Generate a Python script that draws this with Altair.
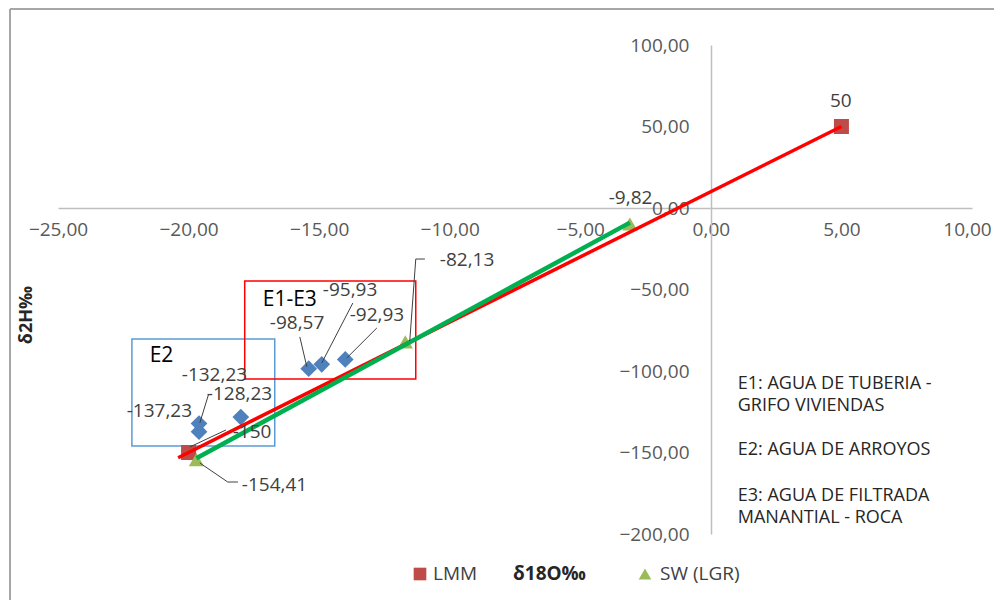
import altair as alt
import pandas as pd

# ---------------- data ----------------
x_ticks = [-25, -20, -15, -10, -5, 0, 5, 10]
y_ticks = [-200, -150, -100, -50, 0, 50, 100]

# LMM (local meteoric line points)
lmm_x = [-20.0, 5.0]
lmm_y = [-150.0, 50.0]

# delta 18O samples (E1, E2, E3)
d18o_x = [-19.6, -19.6, -18.0, -15.4, -14.9, -14.0]
d18o_y = [-132.23, -137.23, -128.23, -98.57, -95.93, -92.93]

# SW (LGR)
sw_x = [-19.7, -11.7, -3.1]
sw_y = [-154.41, -82.13, -9.82]

# data-label anchor positions (data units)
lmm_lab_x = [-18.31, 4.56]
lmm_lab_y = [-137.4, 65.6]
d18o_lab_x = [-20.26, -22.37, -19.30, -16.89, -14.86, -13.83]
d18o_lab_y = [-102.5, -124.5, -114.0, -70.6, -50.3, -65.6]
sw_lab_x = [-17.96, -10.38, -3.91]
sw_lab_y = [-169.9, -31.9, 6.1]

# leader lines (data units)
lead_x1 = [-19.57, -15.47, -14.90, -13.94, -11.53, -11.30, -19.57, -18.50, -19.95]
lead_y1 = [-131.9, -97.5, -95.1, -92.0, -81.6, -31.3, -156.4, -168.1, -146.6]
lead_x2 = [-19.23, -15.74, -13.71, -12.79, -11.30, -10.95, -18.50, -18.11, -18.57]
lead_y2 = [-114.1, -79.1, -58.3, -73.6, -31.3, -31.3, -168.1, -168.1, -136.2]

# group boxes
box_x1 = [-22.17, -17.85]
box_x2 = [-16.70, -11.30]
box_y1 = [-80.4, -44.8]
box_y2 = [-146.0, -104.9]
box_col = ["#5b9bd5", "#ff0000"]

group_txt = ["E2", "E1-E3"]
group_x = [-21.49, -17.16]
group_y = [-90.8, -56.4]

note_txt = ["E1:  AGUA DE TUBERIA -", "GRIFO VIVIENDAS", "E2: AGUA DE ARROYOS",
            "E3: AGUA DE FILTRADA", "MANANTIAL - ROCA"]
note_x = [1.03] * 5
note_y = [-108.0, -121.5, -148.5, -176.7, -190.2]

FONT = "Open Sans"
LBL = "#404040"

# ---------------- scales / axes ----------------
xs = alt.Scale(domain=[-25, 10], nice=False, zero=False)
ys = alt.Scale(domain=[-200, 100], nice=False, zero=False)
lblexpr = "replace(format(datum.value, '.2f'), '.', ',')"
xax = alt.Axis(values=x_ticks, labelExpr=lblexpr, orient="bottom", offset=-326,
               ticks=False, grid=False, domainColor="#bfbfbf", domainWidth=1.5,
               labelPadding=12, labelFlush=False, labelOverlap=False,
               labelOffset={"condition": {"test": "datum.value == 10", "value": -5}, "value": 0},
               labelFontSize=19, labelFont=FONT, labelColor="#595959", title="")
yax = alt.Axis(values=y_ticks, labelExpr=lblexpr, orient="left", offset=-653,
               ticks=False, grid=False, domainColor="#bfbfbf", domainWidth=1.5,
               labelPadding=22, labelFlush=False, labelOverlap=False,
               labelFontSize=19, labelFont=FONT, labelColor="#595959", title="")


def X(f):
    return alt.X(f, type="quantitative", scale=xs, axis=xax)


def Y(f):
    return alt.Y(f, type="quantitative", scale=ys, axis=yax)


one = pd.DataFrame({"a": [0]})
lmm_df = pd.DataFrame({"x": lmm_x, "y": lmm_y})
d18o_df = pd.DataFrame({"x": d18o_x, "y": d18o_y})
sw_df = pd.DataFrame({"x": sw_x, "y": sw_y})
lab_df = pd.DataFrame({"lx": d18o_lab_x + lmm_lab_x + sw_lab_x,
                       "ly": d18o_lab_y + lmm_lab_y + sw_lab_y,
                       "v": d18o_y + lmm_y + sw_y})
lead_df = pd.DataFrame({"x1": lead_x1, "y1": lead_y1, "x2": lead_x2, "y2": lead_y2})
box_df = pd.DataFrame({"x1": box_x1, "x2": box_x2, "y1": box_y1, "y2": box_y2, "c": box_col})
grp_df = pd.DataFrame({"x": group_x, "y": group_y, "t": group_txt})
note_df = pd.DataFrame({"x": note_x, "y": note_y, "t": note_txt})

# frame
frame_l = alt.Chart(one).mark_rule(color="#a6a6a6", strokeWidth=2).encode(
    x=alt.value(-48), y=alt.value(-36), y2=alt.value(570))
frame_t = alt.Chart(one).mark_rule(color="#a6a6a6", strokeWidth=2).encode(
    x=alt.value(-48), x2=alt.value(960), y=alt.value(-36))

boxes = alt.Chart(box_df).mark_rect(fillOpacity=0, strokeWidth=1.5).encode(
    x=X("x1"), x2="x2", y=Y("y1"), y2="y2", stroke=alt.Stroke("c:N", scale=None))

diam = alt.Chart(d18o_df).mark_point(shape="diamond", filled=True, size=280,
                                     color="#4f81bd", opacity=1).encode(x=X("x"), y=Y("y"))
sq = alt.Chart(lmm_df).mark_point(shape="square", filled=True, size=225,
                                  color="#be4b48", opacity=1).encode(x=X("x"), y=Y("y"))
tri = alt.Chart(sw_df).mark_point(shape="triangle-up", filled=True, size=230,
                                  color="#9bbb59", opacity=1).encode(x=X("x"), y=Y("y"))

red = alt.Chart(lmm_df).transform_regression("x", "y", extent=[-20.4, 5.0]).mark_line(
    color="#ff0000", strokeWidth=3.5).encode(x=X("x"), y=Y("y"))
green = alt.Chart(sw_df).transform_regression("x", "y", extent=[-19.7, -3.1]).mark_line(
    color="#00b050", strokeWidth=4.5).encode(x=X("x"), y=Y("y"))

leaders = alt.Chart(lead_df).mark_rule(color="#404040", strokeWidth=1).encode(
    x=X("x1"), y=Y("y1"), x2="x2", y2="y2")

labels = alt.Chart(lab_df).transform_calculate(
    t="replace(toString(datum.v), '.', ',')").mark_text(
    align="left", baseline="middle", fontSize=19, font=FONT, color=LBL).encode(
    x=X("lx"), y=Y("ly"), text="t:N")

groups = alt.Chart(grp_df).mark_text(align="left", baseline="middle", fontSize=21,
                                     font=FONT, color="#000000").encode(
    x=X("x"), y=Y("y"), text="t:N")

notes = alt.Chart(note_df).mark_text(align="left", baseline="middle", fontSize=18,
                                     font=FONT, color="#262626").encode(
    x=X("x"), y=Y("y"), text="t:N")

ytitle = alt.Chart(one).mark_text(angle=270, fontWeight="bold", fontSize=18, font=FONT,
                                  color="#262626").encode(
    x=alt.value(-31), y=alt.value(270), text=alt.value("δ2H‰"))

leg_sq = alt.Chart(one).mark_point(shape="square", filled=True, size=160, color="#be4b48",
                                   opacity=1).encode(x=alt.value(362), y=alt.value(529))
leg_tri = alt.Chart(one).mark_point(shape="triangle-up", filled=True, size=160, color="#9bbb59",
                                    opacity=1).encode(x=alt.value(587), y=alt.value(529))
leg_t1 = alt.Chart(one).mark_text(align="left", baseline="middle", fontSize=19, font=FONT,
                                  color="#404040").encode(
    x=alt.value(375), y=alt.value(529), text=alt.value("LMM"))
leg_t2 = alt.Chart(one).mark_text(align="left", baseline="middle", fontSize=19, font=FONT,
                                  fontWeight="bold", color="#262626").encode(
    x=alt.value(455), y=alt.value(529), text=alt.value("δ18O‰"))
leg_t3 = alt.Chart(one).mark_text(align="left", baseline="middle", fontSize=19, font=FONT,
                                  color="#404040").encode(
    x=alt.value(602), y=alt.value(529), text=alt.value("SW (LGR)"))

chart = alt.layer(
    frame_l, frame_t, boxes, diam, sq, tri, red, green, leaders, labels, groups, notes,
    ytitle, leg_sq, leg_tri, leg_t1, leg_t2, leg_t3
).properties(
    width=914, height=489,
    padding={"left": 50, "top": 37, "right": 22, "bottom": 66},
    autosize=alt.AutoSizeParams(type="none"),
).configure_view(stroke="transparent")

chart.save("out.html", embed_options={"renderer": "svg", "actions": False})
